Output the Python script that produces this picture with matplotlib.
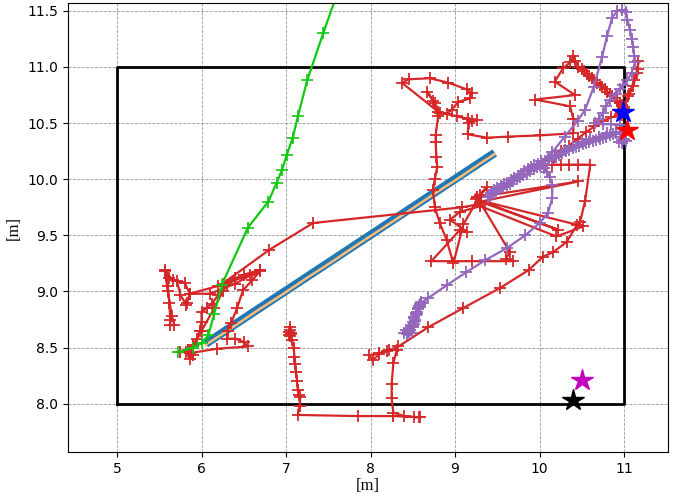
import numpy as np
import matplotlib
matplotlib.use('Agg')
import matplotlib.pyplot as plt

# arena boundary
rect_x = [5, 11, 11, 5, 5]
rect_y = [8, 8, 11, 11, 8]

# green trajectory
green_x = [5.72, 5.90, 6.00, 6.08, 6.15, 6.24, 6.55, 6.79, 6.89, 6.95, 7.01, 7.08, 7.14, 7.25, 7.44, 7.65]
green_y = [8.46, 8.50, 8.54, 8.61, 8.80, 9.06, 9.57, 9.80, 9.97, 10.08, 10.22, 10.37, 10.56, 10.88, 11.30, 11.75]

# reference straight path (blue) and its tracked version (orange)
blue_x = [6.05, 9.47]
blue_y = [8.535, 10.235]
orange_x = [6.05, 6.35, 6.65, 6.95, 7.25, 7.55, 7.85, 8.15, 8.45, 8.75, 9.05, 9.30, 9.47]
orange_y = [8.525, 8.672, 8.825, 8.970, 9.122, 9.268, 9.420, 9.568, 9.716, 9.868, 10.014, 10.142, 10.225]

# red trajectory
red_path = [
    (5.75, 8.46), (5.82, 8.46), (5.86, 8.40), (5.90, 8.43), (5.84, 8.48), (5.90, 8.51), (5.95, 8.58),
    (5.98, 8.65), (6.00, 8.73), (6.00, 8.82), (6.06, 8.85), (6.12, 8.89), (6.20, 8.97), (6.26, 9.06),
    (6.40, 9.12), (6.57, 9.15), (6.69, 9.19), (6.40, 9.07), (6.10, 8.98), (5.86, 8.98), (5.83, 8.90),
    (5.82, 8.88), (5.75, 8.97), (5.71, 9.09), (5.62, 9.12), (5.57, 9.19), (5.60, 9.05), (5.62, 8.90),
    (5.63, 8.75), (5.63, 8.70), (5.68, 8.70), (5.65, 8.78), (5.60, 9.00), (5.57, 9.18), (5.66, 9.10),
    (5.80, 9.08), (5.86, 8.98), (6.20, 9.05), (6.69, 9.18), (6.60, 9.10), (6.49, 9.01), (6.42, 8.85),
    (6.35, 8.72), (6.31, 8.65), (6.30, 8.58), (6.40, 8.58), (6.50, 8.55), (6.55, 8.51), (6.18, 8.49),
    (5.86, 8.45), (5.90, 8.52), (6.00, 8.65), (6.15, 8.85), (6.25, 9.00), (6.30, 9.06), (6.50, 9.15),
    (6.69, 9.19), (6.25, 9.07), (6.80, 9.37), (7.32, 9.61),
    (9.08, 9.75), (9.30, 9.78), (9.26, 9.84), (10.46, 9.98), (9.30, 9.80), (10.22, 9.55), (9.25, 9.82),
    (10.52, 9.58), (10.20, 9.49), (9.30, 9.76), (9.06, 9.71), (8.94, 9.64), (9.14, 9.53), (9.06, 9.55),
    (8.72, 9.27), (9.20, 9.27), (9.69, 9.27), (9.60, 9.29), (9.65, 9.35), (9.26, 9.84), (9.38, 9.93),
    (9.30, 9.86), (9.10, 9.60), (8.98, 9.25),
    (8.90, 9.46), (8.82, 9.61), (8.76, 9.75), (8.74, 9.90), (8.76, 10.00), (8.79, 10.11), (8.78, 10.20),
    (8.77, 10.33), (8.77, 10.39), (8.80, 10.56), (8.74, 10.70), (8.67, 10.78), (8.76, 10.68), (8.82, 10.59),
    (8.37, 10.86), (8.45, 10.89), (8.70, 10.90), (8.92, 10.86), (9.14, 10.80), (9.20, 10.77), (9.18, 10.72),
    (9.04, 10.69), (8.96, 10.62), (8.90, 10.58), (8.80, 10.60), (9.02, 10.56), (9.15, 10.54), (9.26, 10.53),
    (9.20, 10.52), (9.16, 10.50), (9.15, 10.40), (9.38, 10.37), (9.63, 10.38), (10.00, 10.39), (10.40, 10.41),
    (10.40, 10.54), (10.36, 10.65), (9.95, 10.71), (10.42, 10.75), (10.18, 10.87), (10.28, 10.99),
    (10.36, 11.04), (10.40, 11.10), (10.42, 11.05), (10.46, 11.00), (10.50, 10.98), (10.53, 10.96),
    (10.56, 10.94), (10.59, 10.92), (10.62, 10.90), (10.65, 10.88), (10.68, 10.86), (10.71, 10.84),
    (10.74, 10.82), (10.77, 10.80), (10.80, 10.78), (10.83, 10.76), (10.86, 10.74), (10.89, 10.72),
    (10.92, 10.70), (10.95, 10.68), (10.98, 10.66), (11.00, 10.64),
    (11.05, 10.74), (11.11, 10.83), (11.15, 10.95), (11.17, 11.05), (11.16, 10.98), (11.12, 10.88),
    (11.06, 10.76), (11.00, 10.63), (10.96, 10.60), (10.93, 10.62), (10.97, 10.57), (10.95, 10.58),
    (10.85, 10.55), (10.75, 10.52), (10.65, 10.47), (10.55, 10.42), (10.45, 10.36), (10.35, 10.30),
    (10.25, 10.25), (10.18, 10.20), (10.15, 10.13), (10.25, 10.13), (10.35, 10.13), (10.45, 10.13),
    (10.60, 10.13),
    (10.54, 9.81), (10.48, 9.62), (10.44, 9.59), (10.32, 9.44), (10.16, 9.35), (10.04, 9.31), (9.87, 9.19),
    (9.53, 9.03), (9.09, 8.85), (8.68, 8.68), (8.33, 8.51),
    (8.20, 8.47), (8.10, 8.45), (7.98, 8.43), (8.03, 8.39), (8.10, 8.44), (8.22, 8.48), (8.31, 8.48),
    (8.27, 8.36), (8.25, 8.18), (8.25, 8.05), (8.27, 7.92), (8.40, 7.89), (8.52, 7.88), (8.57, 7.88),
    (8.59, 7.88), (8.27, 7.89), (7.85, 7.89), (7.14, 7.90), (7.16, 7.98), (7.17, 8.06), (7.15, 8.08),
    (7.14, 8.12), (7.13, 8.20), (7.12, 8.28), (7.11, 8.35), (7.10, 8.42), (7.09, 8.50), (7.07, 8.57),
    (7.05, 8.60), (7.06, 8.62), (7.04, 8.64), (7.05, 8.66), (7.06, 8.63), (7.04, 8.61), (7.05, 8.68),
]

# purple trajectory
purple_path = [
    # slow start (blob)
    (8.40, 8.63), (8.43, 8.62), (8.46, 8.64), (8.49, 8.63), (8.47, 8.66), (8.50, 8.68), (8.51, 8.71),
    (8.53, 8.74), (8.52, 8.77), (8.54, 8.79), (8.55, 8.82), (8.56, 8.85), (8.57, 8.87), (8.58, 8.89),
    (8.60, 8.91), (8.58, 8.86), (8.55, 8.80), (8.53, 8.75), (8.50, 8.70), (8.47, 8.66), (8.44, 8.64),
    (8.42, 8.66), (8.45, 8.67), (8.48, 8.69), (8.50, 8.73), (8.52, 8.76), (8.54, 8.81), (8.56, 8.84),
    (8.58, 8.88), (8.60, 8.90),
    # thin climb
    (8.68, 8.94), (8.91, 9.06), (9.13, 9.17), (9.36, 9.28), (9.62, 9.39), (9.83, 9.50), (10.00, 9.61),
    (10.10, 9.70), (10.15, 9.83), (10.15, 9.95), (10.12, 10.02), (10.09, 10.06), (10.05, 10.10),
    # band down-left
    (10.01, 10.12), (9.97, 10.11), (9.93, 10.09), (9.89, 10.07), (9.85, 10.05), (9.81, 10.04),
    (9.77, 10.02), (9.73, 10.00), (9.69, 9.98), (9.65, 9.96), (9.61, 9.94), (9.57, 9.93), (9.53, 9.91),
    (9.49, 9.89), (9.45, 9.87), (9.41, 9.85), (9.39, 9.84),
    # band back up
    (9.42, 9.88), (9.46, 9.90), (9.50, 9.92), (9.54, 9.94), (9.58, 9.96), (9.62, 9.97), (9.66, 9.99),
    (9.70, 10.01), (9.74, 10.03), (9.78, 10.05), (9.82, 10.07), (9.86, 10.09), (9.90, 10.11),
    (9.94, 10.13), (9.98, 10.14), (10.02, 10.16),
    # tall loop
    (10.15, 10.24), (10.30, 10.38), (10.45, 10.52), (10.54, 10.62), (10.64, 10.82), (10.74, 11.09),
    (10.80, 11.28), (10.86, 11.44), (10.92, 11.50), (10.97, 11.51), (11.02, 11.49), (11.04, 11.42),
    (11.07, 11.33), (11.09, 11.25), (11.11, 11.18), (11.12, 11.10), (11.13, 11.04), (11.09, 10.95),
    (11.04, 10.88), (10.99, 10.84), (10.95, 10.80), (10.90, 10.76), (10.83, 10.71), (10.79, 10.65),
    (10.75, 10.59), (10.70, 10.54), (10.66, 10.50),
    (10.75, 10.49), (10.85, 10.49), (10.95, 10.48), (10.98, 10.45),
    # band down again
    (10.95, 10.42), (10.91, 10.41), (10.87, 10.40), (10.83, 10.39), (10.79, 10.38), (10.75, 10.37),
    (10.71, 10.36), (10.67, 10.35), (10.63, 10.34), (10.59, 10.33), (10.55, 10.32), (10.51, 10.31),
    (10.47, 10.30), (10.43, 10.29), (10.39, 10.28), (10.35, 10.26), (10.31, 10.25), (10.27, 10.23),
    (10.23, 10.22), (10.19, 10.20), (10.15, 10.19), (10.11, 10.17), (10.07, 10.16), (10.03, 10.14),
    # and back to the corner
    (10.10, 10.18), (10.20, 10.22), (10.30, 10.26), (10.40, 10.30), (10.50, 10.33), (10.60, 10.36),
    (10.70, 10.38), (10.80, 10.41), (10.90, 10.42), (10.98, 10.42),
    (10.95, 10.38), (10.98, 10.35), (10.94, 10.33), (11.00, 10.36), (10.97, 10.32), (11.02, 10.34),
]

# star markers
star_x = [10.40, 10.50, 11.04, 10.99]
star_y = [8.03, 8.21, 10.44, 10.60]
star_colors = ['k', 'm', 'r', 'b']

red = np.array(red_path)
purple = np.array(purple_path)

fig = plt.figure(figsize=(6.81, 4.97), dpi=100)
ax = fig.add_axes([68 / 681, 45 / 497, 600 / 681, 449 / 497])

ax.plot(rect_x, rect_y, color='k', linewidth=2)
ax.plot(blue_x, blue_y, color='#1f77b4', linewidth=6, solid_capstyle='butt')
ax.plot(orange_x, orange_y, color='#ffbb78', linewidth=1.8)
ax.plot(red[:, 0], red[:, 1], color='#d62728', linewidth=1.6, marker='+', markersize=8, markeredgewidth=1.3)
ax.plot(green_x, green_y, color='#11c811', linewidth=1.6, marker='+', markersize=8, markeredgewidth=1.2)
ax.plot(purple[:, 0], purple[:, 1], color='#9467bd', linewidth=1.6, marker='+', markersize=8, markeredgewidth=1.3)
for x, y, c in zip(star_x, star_y, star_colors):
    ax.plot(x, y, marker='*', color=c, markersize=16, linestyle='none')

ax.set_xlim(4.42, 11.52)
ax.set_ylim(7.57, 11.57)
ax.set_xticks([5, 6, 7, 8, 9, 10, 11])
ax.set_yticks([8.0, 8.5, 9.0, 9.5, 10.0, 10.5, 11.0, 11.5])
ax.grid(True, linestyle='--', color='gray', linewidth=0.6, alpha=0.8)
ax.set_axisbelow(True)
ax.set_xlabel('[m]', family='Liberation Serif', fontsize=12, labelpad=2)
ax.set_ylabel('[m]', family='Liberation Serif', fontsize=12, labelpad=4)

fig.savefig('out.png', dpi=100)
